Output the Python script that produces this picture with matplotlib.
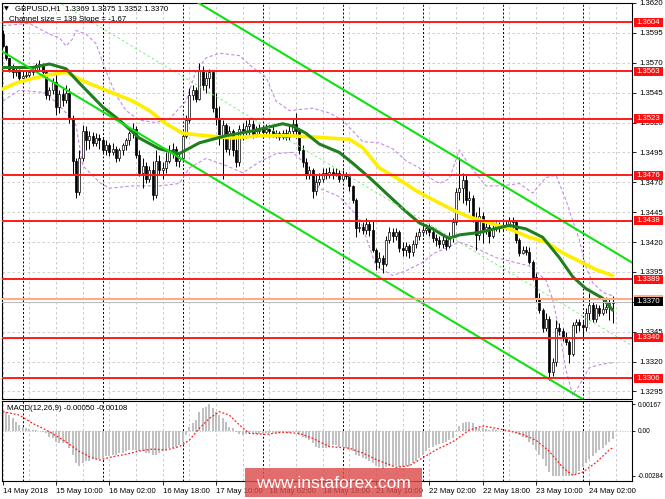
import numpy as np
import pandas as pd
import matplotlib
matplotlib.use("Agg")
import matplotlib.pyplot as plt
from matplotlib.patches import Rectangle
from matplotlib.transforms import blended_transform_factory

plt.rcParams['font.family'] = ['Liberation Sans', 'DejaVu Sans']

# ---------------- data ----------------
header_text = "GBPUSD,H1  1.3369 1.3375 1.3352 1.3370"
channel_text = "Channel size = 139 Slope = -1.67"
macd_text = "MACD(12,26,9) -0.00050 -0.00108"
first_bar_time = "2018-05-14 18:00"

open_first = 1.3594
close = [
    1.3584, 1.3574, 1.3565, 1.3562, 1.3564, 1.3557, 1.3559, 1.3560, 1.3562, 1.3564,
    1.3568, 1.3569, 1.3562, 1.3543, 1.3547, 1.3554, 1.3533, 1.3544, 1.3539, 1.3545,
    1.3524, 1.3488, 1.3462, 1.3490, 1.3513, 1.3505, 1.3509, 1.3503, 1.3507, 1.3505,
    1.3497, 1.3501, 1.3495, 1.3498, 1.3490, 1.3497, 1.3501, 1.3505, 1.3511, 1.3515,
    1.3493, 1.3478, 1.3484, 1.3473, 1.3480, 1.3459, 1.3488, 1.3480, 1.3482, 1.3488,
    1.3497, 1.3498, 1.3488, 1.3490, 1.3509, 1.3522, 1.3543, 1.3547, 1.3540, 1.3564,
    1.3551, 1.3557, 1.3562, 1.3532, 1.3524, 1.3507, 1.3518, 1.3498, 1.3513, 1.3497,
    1.3487, 1.3515, 1.3512, 1.3517, 1.3519, 1.3510, 1.3513, 1.3515, 1.3512, 1.3515,
    1.3513, 1.3510, 1.3511, 1.3508, 1.3511, 1.3508, 1.3513, 1.3519, 1.3513, 1.3497,
    1.3487, 1.3476, 1.3480, 1.3463, 1.3470, 1.3473, 1.3478, 1.3476, 1.3479, 1.3477,
    1.3478, 1.3473, 1.3477, 1.3475, 1.3467, 1.3455, 1.3432, 1.3433, 1.3430, 1.3435,
    1.3430, 1.3413, 1.3403, 1.3407, 1.3402, 1.3422, 1.3428, 1.3425, 1.3428, 1.3415,
    1.3413, 1.3417, 1.3412, 1.3418, 1.3425, 1.3428, 1.3430, 1.3432, 1.3428, 1.3423,
    1.3422, 1.3418, 1.3422, 1.3417, 1.3425, 1.3437, 1.3462, 1.3465, 1.3472, 1.3455,
    1.3457, 1.3440, 1.3426, 1.3442, 1.3430, 1.3433, 1.3425, 1.3432, 1.3434, 1.3432,
    1.3434, 1.3433, 1.3438, 1.3437, 1.3422, 1.3411, 1.3413, 1.3412, 1.3403, 1.3391,
    1.3372, 1.3363, 1.3348, 1.3356, 1.3311, 1.3320, 1.3348, 1.3346, 1.3340, 1.3336,
    1.3326, 1.3351, 1.3353, 1.3351, 1.3349, 1.3361, 1.3367, 1.3356, 1.3365, 1.3361,
    1.3364, 1.3366, 1.3369, 1.3370,
]
high = [
    1.3597, 1.3585, 1.3574, 1.3569, 1.3567, 1.3565, 1.3562, 1.3563, 1.3564, 1.3566,
    1.3570, 1.3572, 1.3570, 1.3564, 1.3550, 1.3557, 1.3561, 1.3547, 1.3550, 1.3551,
    1.3549, 1.3526, 1.3490, 1.3497, 1.3518, 1.3517, 1.3513, 1.3512, 1.3511, 1.3510,
    1.3508, 1.3505, 1.3503, 1.3503, 1.3500, 1.3499, 1.3503, 1.3507, 1.3513, 1.3520,
    1.3517, 1.3497, 1.3490, 1.3487, 1.3484, 1.3488, 1.3497, 1.3493, 1.3487, 1.3495,
    1.3501, 1.3503, 1.3500, 1.3495, 1.3513, 1.3526, 1.3549, 1.3551, 1.3550, 1.3570,
    1.3567, 1.3562, 1.3565, 1.3564, 1.3545, 1.3534, 1.3522, 1.3520, 1.3517, 1.3515,
    1.3507, 1.3518, 1.3520, 1.3522, 1.3524, 1.3522, 1.3517, 1.3519, 1.3518, 1.3519,
    1.3518, 1.3517, 1.3514, 1.3513, 1.3514, 1.3515, 1.3518, 1.3524, 1.3528, 1.3515,
    1.3501, 1.3490, 1.3484, 1.3482, 1.3476, 1.3478, 1.3482, 1.3482, 1.3483, 1.3482,
    1.3482, 1.3480, 1.3480, 1.3479, 1.3477, 1.3468, 1.3457, 1.3437, 1.3437, 1.3440,
    1.3438, 1.3438, 1.3415, 1.3412, 1.3409, 1.3425, 1.3433, 1.3432, 1.3432, 1.3430,
    1.3420, 1.3420, 1.3418, 1.3422, 1.3428, 1.3432, 1.3434, 1.3435, 1.3435, 1.3433,
    1.3427, 1.3425, 1.3425, 1.3425, 1.3428, 1.3440, 1.3465, 1.3491, 1.3478, 1.3476,
    1.3463, 1.3459, 1.3445, 1.3449, 1.3445, 1.3437, 1.3435, 1.3437, 1.3437, 1.3437,
    1.3437, 1.3438, 1.3441, 1.3441, 1.3438, 1.3423, 1.3417, 1.3417, 1.3416, 1.3405,
    1.3394, 1.3377, 1.3365, 1.3361, 1.3358, 1.3323, 1.3355, 1.3352, 1.3348, 1.3345,
    1.3338, 1.3353, 1.3356, 1.3356, 1.3355, 1.3365, 1.3377, 1.3370, 1.3368, 1.3367,
    1.3372, 1.3374, 1.3372, 1.3375,
]
low = [
    1.3583, 1.3572, 1.3562, 1.3557, 1.3559, 1.3554, 1.3554, 1.3557, 1.3558, 1.3560,
    1.3562, 1.3564, 1.3560, 1.3540, 1.3539, 1.3544, 1.3526, 1.3528, 1.3534, 1.3536,
    1.3520, 1.3476, 1.3457, 1.3459, 1.3488, 1.3497, 1.3498, 1.3500, 1.3500, 1.3498,
    1.3494, 1.3493, 1.3492, 1.3493, 1.3487, 1.3488, 1.3493, 1.3497, 1.3501, 1.3507,
    1.3490, 1.3475, 1.3465, 1.3469, 1.3470, 1.3455, 1.3457, 1.3476, 1.3473, 1.3478,
    1.3486, 1.3490, 1.3484, 1.3483, 1.3487, 1.3507, 1.3520, 1.3539, 1.3537, 1.3539,
    1.3547, 1.3545, 1.3549, 1.3529, 1.3518, 1.3501, 1.3473, 1.3495, 1.3493, 1.3492,
    1.3483, 1.3484, 1.3505, 1.3507, 1.3509, 1.3507, 1.3508, 1.3510, 1.3509, 1.3510,
    1.3508, 1.3508, 1.3507, 1.3505, 1.3506, 1.3505, 1.3505, 1.3510, 1.3507, 1.3494,
    1.3483, 1.3473, 1.3473, 1.3457, 1.3459, 1.3468, 1.3470, 1.3473, 1.3474, 1.3473,
    1.3475, 1.3470, 1.3472, 1.3473, 1.3463, 1.3453, 1.3424, 1.3428, 1.3427, 1.3427,
    1.3425, 1.3412, 1.3397, 1.3398, 1.3394, 1.3400, 1.3419, 1.3420, 1.3422, 1.3412,
    1.3408, 1.3408, 1.3407, 1.3408, 1.3415, 1.3422, 1.3425, 1.3427, 1.3425, 1.3420,
    1.3417, 1.3415, 1.3415, 1.3413, 1.3415, 1.3420, 1.3434, 1.3455, 1.3453, 1.3451,
    1.3445, 1.3437, 1.3413, 1.3422, 1.3419, 1.3427, 1.3419, 1.3423, 1.3429, 1.3428,
    1.3429, 1.3430, 1.3432, 1.3432, 1.3419, 1.3408, 1.3410, 1.3409, 1.3402, 1.3388,
    1.3370, 1.3361, 1.3345, 1.3346, 1.3305, 1.3308, 1.3316, 1.3342, 1.3337, 1.3334,
    1.3319, 1.3325, 1.3344, 1.3346, 1.3338, 1.3346, 1.3355, 1.3353, 1.3353, 1.3358,
    1.3359, 1.3361, 1.3355, 1.3352,
]

# moving averages / bands (bar index, price)
green_ma_bar = [0, 9, 14, 19, 23, 30, 35, 41, 47, 53, 59, 67, 75, 84, 87, 91, 95, 101, 105, 110,
                115, 120, 125, 129, 132, 134, 137, 143, 152, 157, 162, 167, 171, 175, 180, 183]
green_ma_val = [1.3566, 1.3566, 1.3569, 1.3565, 1.3553, 1.3533, 1.3522, 1.3507, 1.3498, 1.3494,
                1.3503, 1.3509, 1.3513, 1.3519, 1.3517, 1.3511, 1.3502, 1.3495, 1.3486, 1.3474,
                1.3461, 1.3448, 1.3436, 1.3431, 1.3426, 1.3423, 1.3426, 1.3428, 1.3434, 1.3431,
                1.3424, 1.3407, 1.3391, 1.3381, 1.3373, 1.3363]
yellow_ma_bar = [0, 4, 9, 14, 19, 24, 31, 39, 44, 49, 54, 61, 69, 77, 85, 93, 98, 104, 108, 113,
                 118, 124, 128, 135, 140, 146, 152, 158, 163, 168, 173, 178, 183]
yellow_ma_val = [1.3548, 1.3553, 1.3557, 1.3560, 1.3562, 1.3555, 1.3547, 1.3538, 1.3530, 1.3519,
                 1.3511, 1.3509, 1.3507, 1.3509, 1.3509, 1.3508, 1.3507, 1.3506, 1.3499, 1.3482,
                 1.3474, 1.3463, 1.3457, 1.3447, 1.3441, 1.3436, 1.3431, 1.3424, 1.3420, 1.3411,
                 1.3404, 1.3397, 1.3392]
upper_band_bar = [0, 8, 14, 17, 19, 21, 22, 25, 28, 31, 34, 37, 41, 46, 50, 55, 58, 61, 65, 71,
                  75, 79, 82, 86, 93, 98, 102, 108, 113, 117, 121, 125, 128, 131, 134, 137, 140, 145, 150, 155,
                  159, 163, 166, 169, 171, 173, 175, 177, 180, 183]
upper_band_val = [1.3601, 1.3603, 1.3594, 1.3591, 1.3584, 1.3590, 1.3597, 1.3594, 1.3586, 1.3563,
                  1.3543, 1.3530, 1.3522, 1.3520, 1.3523, 1.3538, 1.3563, 1.3574, 1.3578, 1.3576,
                  1.3566, 1.3558, 1.3538, 1.3530, 1.3532, 1.3528, 1.3522, 1.3504, 1.3503, 1.3498,
                  1.3488, 1.3482, 1.3474, 1.3469, 1.3473, 1.3497, 1.3484, 1.3467, 1.3467, 1.3469,
                  1.3461, 1.3474, 1.3476, 1.3455, 1.3438, 1.3422, 1.3399, 1.3386, 1.3378, 1.3375]
lower_band_bar = [0, 5, 13, 19, 22, 24, 29, 32, 39, 47, 53, 56, 61, 67, 72, 77, 82, 87, 91, 95,
                  101, 107, 112, 117, 121, 126, 129, 133, 137, 142, 148, 158, 163, 165, 167, 169, 171, 173, 176, 180,
                  183]
lower_band_val = [1.3538, 1.3547, 1.3545, 1.3528, 1.3518, 1.3484, 1.3470, 1.3465, 1.3467, 1.3467,
                  1.3469, 1.3482, 1.3490, 1.3484, 1.3478, 1.3487, 1.3494, 1.3495, 1.3485, 1.3465,
                  1.3458, 1.3440, 1.3400, 1.3392, 1.3396, 1.3403, 1.3410, 1.3415, 1.3420, 1.3415,
                  1.3407, 1.3400, 1.3388, 1.3372, 1.3346, 1.3313, 1.3292, 1.3300, 1.3315, 1.3318,
                  1.3319]

levels = [1.3604, 1.3563, 1.3523, 1.3476, 1.3438, 1.3389, 1.3340, 1.3306]
level_labels = ["1.3604", "1.3563", "1.3523", "1.3476", "1.3438", "1.3389", "1.3340", "1.3306"]
bid_price, ask_price = 1.3370, 1.3372

channel_anchor_bar = 59.2
channel_anchor_price = 1.36193
channel_slope_pips = -1.67
channel_size_pips = 139

price_ticks = [1.3295, 1.3320, 1.3345, 1.3370, 1.3395, 1.3420, 1.3445, 1.3470,
               1.3495, 1.3520, 1.3545, 1.3570, 1.3595, 1.3620]

macd_hist = [
    0.0013, 0.0012, 0.00098, 0.00077, 0.00056, 0.00035, 0.00025, 0.00015, 0.00008, 0.00004,
    0.00002, -0.00002, -0.00006, -0.00017, -0.00038, -0.00048, -0.00069, -0.00079, -0.00079, -0.0008,
    -0.0011, -0.0015, -0.0020, -0.0022, -0.0020, -0.0019, -0.0019, -0.0018, -0.0018, -0.0018,
    -0.0017, -0.0016, -0.0016, -0.0015, -0.0015, -0.0014, -0.0014, -0.0013, -0.0012, -0.0012,
    -0.0012, -0.0013, -0.0013, -0.0014, -0.0014, -0.0015, -0.0015, -0.0014, -0.0013, -0.0012,
    -0.0011, -0.0011, -0.0010, -0.0009, -0.0007, -0.0003, 0.00025, 0.00046, 0.00067, 0.0012,
    0.0014, 0.0015, 0.00167, 0.0014, 0.0012, 0.00098, 0.00077, 0.00056, 0.00025, 0.00015,
    -0.00006, -0.00023, -0.00027, -0.00023, -0.00017, -0.00017, -0.00023, -0.00023, -0.00023, -0.00017,
    -0.00017, -0.00017, -0.00017, -0.00017, -0.0001, -0.0001, -0.00017, -0.0001, -0.0001, -0.00027,
    -0.00038, -0.00048, -0.00058, -0.0008, -0.0010, -0.0011, -0.0011, -0.0011, -0.0010, -0.0009,
    -0.0009, -0.0010, -0.0010, -0.0011, -0.0012, -0.0013, -0.0015, -0.0016, -0.0017, -0.0018,
    -0.0019, -0.0020, -0.0022, -0.0023, -0.0024, -0.0023, -0.0022, -0.0022, -0.0022, -0.0023,
    -0.0023, -0.0022, -0.0022, -0.0020, -0.0019, -0.0017, -0.0015, -0.0013, -0.0011, -0.0010,
    -0.0009, -0.00086, -0.0008, -0.0007, -0.0006, -0.00044, -0.0001, 0.0003, 0.0005, 0.00056,
    0.00056, 0.0005, 0.00025, 0.00015, 0.00015, 0.0001, 0.00004, 0.00008, 0.00004, 0.0,
    -0.00002, -0.00002, -0.00002, -0.00006, -0.00017, -0.00027, -0.00038, -0.00048, -0.0007, -0.0009,
    -0.0012, -0.0015, -0.0018, -0.0022, -0.0026, -0.00284, -0.00284, -0.00284, -0.00284, -0.00284,
    -0.00284, -0.0028, -0.0027, -0.0025, -0.0023, -0.0020, -0.0018, -0.0016, -0.0014, -0.0012,
    -0.0011, -0.0009, -0.0007, -0.0005,
]
signal_bar = [0, 5, 9, 14, 19, 23, 26, 29, 33, 37, 41, 45, 49, 53, 56, 59, 62, 65, 68, 71,
              74, 79, 84, 89, 93, 98, 104, 108, 112, 118, 122, 126, 130, 135, 140, 144, 148, 152, 156, 160,
              164, 168, 171, 174, 178, 182, 183]
signal_val = [0.0012, 0.00098, 0.00046, -0.00006, -0.0007, -0.0013, -0.00163, -0.00184, -0.00163, -0.00148,
              -0.00127, -0.00115, -0.00121, -0.0010, -0.00059, 0.00015, 0.00077, 0.00119, 0.00098, 0.00036,
              -0.00017, -0.00023, -0.0001, -0.00017, -0.00048, -0.0010, -0.0011, -0.0014, -0.0018, -0.0023,
              -0.0022, -0.0017, -0.0012, -0.0007, 0.00004, 0.0003, 0.00015, -0.00002, -0.00023, -0.0006,
              -0.0013, -0.0023, -0.0028, -0.0026, -0.0020, -0.0012, -0.00108]
macd_ticks = [0.00167, 0.0, -0.00284]
macd_tick_labels = ["0.00167", "0.00", "-0.00284"]

x_labels = ["14 May 2018", "15 May 10:00", "16 May 02:00", "16 May 18:00", "17 May 10:00",
            "18 May 02:00", "18 May 18:00", "21 May 10:00", "22 May 02:00", "22 May 18:00",
            "23 May 10:00", "24 May 02:00"]
x_label_step = 16
grid_step = 8

# ---------------- layout ----------------
W, H = 665, 499
fig = plt.figure(figsize=(W / 100, H / 100), dpi=100)
fig.patch.set_facecolor('white')


def rect(l, t, r, b):
    return [l / W, 1 - b / H, (r - l) / W, (b - t) / H]


ax = fig.add_axes(rect(2, 3, 632, 399))
ax2 = fig.add_axes(rect(2, 401, 632, 481))

n = len(close)
idx = np.arange(n)
o = np.array([open_first] + close[:-1])
c = np.array(close)
h = np.maximum(np.array(high), np.maximum(o, c))
l = np.minimum(np.array(low), np.minimum(o, c))

# bar times (H1, weekdays only) -> daily separators
times = []
t = pd.Timestamp(first_bar_time)
while len(times) < n:
    if t.weekday() < 5:
        times.append(t)
    t += pd.Timedelta(hours=1)
day_starts = [i for i, tt in enumerate(times) if tt.hour == 0]

XMIN, XMAX = -0.21, 188.8
YMIN, YMAX = 1.32887, 1.36193
MMIN, MMAX = -0.003154, 0.001862

for a in (ax, ax2):
    a.set_xlim(XMIN, XMAX)
    a.set_facecolor('white')
    for s in a.spines.values():
        s.set_color('black')
        s.set_linewidth(0.8)
    for b in range(0, int(XMAX) + 1, grid_step):
        a.axvline(b, color='#c0c0c0', lw=0.6, ls=(0, (3, 3)), zorder=0.5)
    for b in day_starts:
        a.axvline(b, color='black', lw=0.7, ls=(0, (2, 2)), zorder=0.6)

ax.set_ylim(YMIN, YMAX)
ax2.set_ylim(MMIN, MMAX)

for p in price_ticks:
    ax.axhline(p, color='#c8c8c8', lw=0.6, ls=(0, (3, 3)), zorder=0.5)

# bands
ax.plot(upper_band_bar, upper_band_val, color='#c58be8', lw=0.8, ls=(0, (3, 2)), zorder=1)
ax.plot(lower_band_bar, lower_band_val, color='#c58be8', lw=0.8, ls=(0, (3, 2)), zorder=1)

# channel
xs = np.array([XMIN - 1, XMAX + 1])
slope = channel_slope_pips * 0.0001
upper = channel_anchor_price + slope * (xs - channel_anchor_bar)
lower = upper - channel_size_pips * 0.0001
mid = upper - channel_size_pips * 0.0001 / 2
ax.plot(xs, upper, color='#11e011', lw=1.5, zorder=3.5)
ax.plot(xs, lower, color='#11e011', lw=1.5, zorder=3.5)
ax.plot(xs, mid, color='#66ee66', lw=0.6, ls=(0, (3, 3)), zorder=3.5)

# candles
ax.vlines(idx, l, h, color='black', lw=0.7, zorder=2)
bull = c >= o
bb = np.minimum(o, c)
bh = np.maximum(np.abs(c - o), 0.00003)
ax.bar(idx[bull], bh[bull], bottom=bb[bull], width=0.62, color='white',
       edgecolor='black', lw=0.5, zorder=2.1)
ax.bar(idx[~bull], bh[~bull], bottom=bb[~bull], width=0.62, color='black',
       edgecolor='black', lw=0.5, zorder=2.1)

# moving averages
ax.plot(yellow_ma_bar, yellow_ma_val, color='#ffee00', lw=2.6, zorder=3, solid_capstyle='round')
ax.plot(green_ma_bar, green_ma_val, color='#1f7f1f', lw=2.2, zorder=3.2, solid_capstyle='round')

# levels
for lv in levels:
    ax.axhline(lv, color='#ff1a1a', lw=1.4, zorder=4)
ax.axhline(ask_price, color='#ffab8a', lw=1.5, zorder=4)
ax.axhline(bid_price, color='#bdbdbd', lw=0.8, zorder=4)

# right axis (the tick label at the bid price is covered by the bid box)
ax.yaxis.tick_right()
ax.set_yticks(price_ticks)
ax.set_yticklabels(["" if abs(p - bid_price) < 1e-6 else f"{p:.4f}" for p in price_ticks])
ax.tick_params(axis='y', labelsize=5.6, length=3, width=0.6, pad=2, direction='out')
ax.set_xticks([])

# price label boxes
tr = blended_transform_factory(fig.transFigure, ax.transData)
bh_data = 9 / 396 * (YMAX - YMIN)


def price_box(val, text, fc, z):
    ax.add_patch(Rectangle((634 / W, val - bh_data / 2), 29 / W, bh_data, transform=tr,
                           facecolor=fc, edgecolor='none', clip_on=False, zorder=z))
    if text:
        ax.text(648.5 / W, val, text, transform=tr, ha='center', va='center', color='white',
                fontsize=5.6, clip_on=False, zorder=z + 0.1)


for lv, lab in zip(levels, level_labels):
    price_box(lv, lab, '#ff1010', 10)
price_box(ask_price, "", '#ffab8a', 10)
price_box(bid_price, f"{bid_price:.4f}", 'black', 11)

# MACD panel
ax2.bar(idx, macd_hist, width=0.55, color='#c0c0c0', zorder=2)
ax2.plot(signal_bar, signal_val, color='#ff2020', lw=0.9, ls=(0, (1.5, 1.5)), zorder=3)
ax2.axhline(0, color='#a8a8a8', lw=0.6, ls=(0, (1, 2)), zorder=1)
ax2.yaxis.tick_right()
ax2.set_yticks(macd_ticks)
ax2.set_yticklabels(macd_tick_labels)
ax2.tick_params(axis='y', labelsize=4.8, length=2.5, width=0.6, pad=1.5, direction='out')
xt = [i * x_label_step for i in range(len(x_labels))]
ax2.set_xticks(xt)
ax2.set_xticklabels(x_labels, ha='left')
ax2.tick_params(axis='x', labelsize=5.6, length=3, width=0.6, pad=2, direction='out')

# texts
fig.text(4 / W, 1 - 8.7 / H, "\u25BC", fontsize=4.5, va='center', ha='left',
         family=['DejaVu Sans'])
fig.text(15 / W, 1 - 8.7 / H, header_text, fontsize=5.7, va='center', ha='left')
fig.text(9 / W, 1 - 19.3 / H, channel_text, fontsize=5.7, va='center', ha='left')
fig.text(7 / W, 1 - 409 / H, macd_text, fontsize=5.7, va='center', ha='left')

# watermark
fig.add_artist(Rectangle((245 / W, 1 - 497 / H), 177 / W, 29 / H, transform=fig.transFigure,
                         facecolor='#dc4d4d', alpha=0.82, edgecolor='none', zorder=5))
fig.text(333.5 / W, 1 - 483 / H, "www.instaforex.com", color='white', fontsize=12.5,
         ha='center', va='center', zorder=6)

fig.savefig("out.png", dpi=100, facecolor='white')
